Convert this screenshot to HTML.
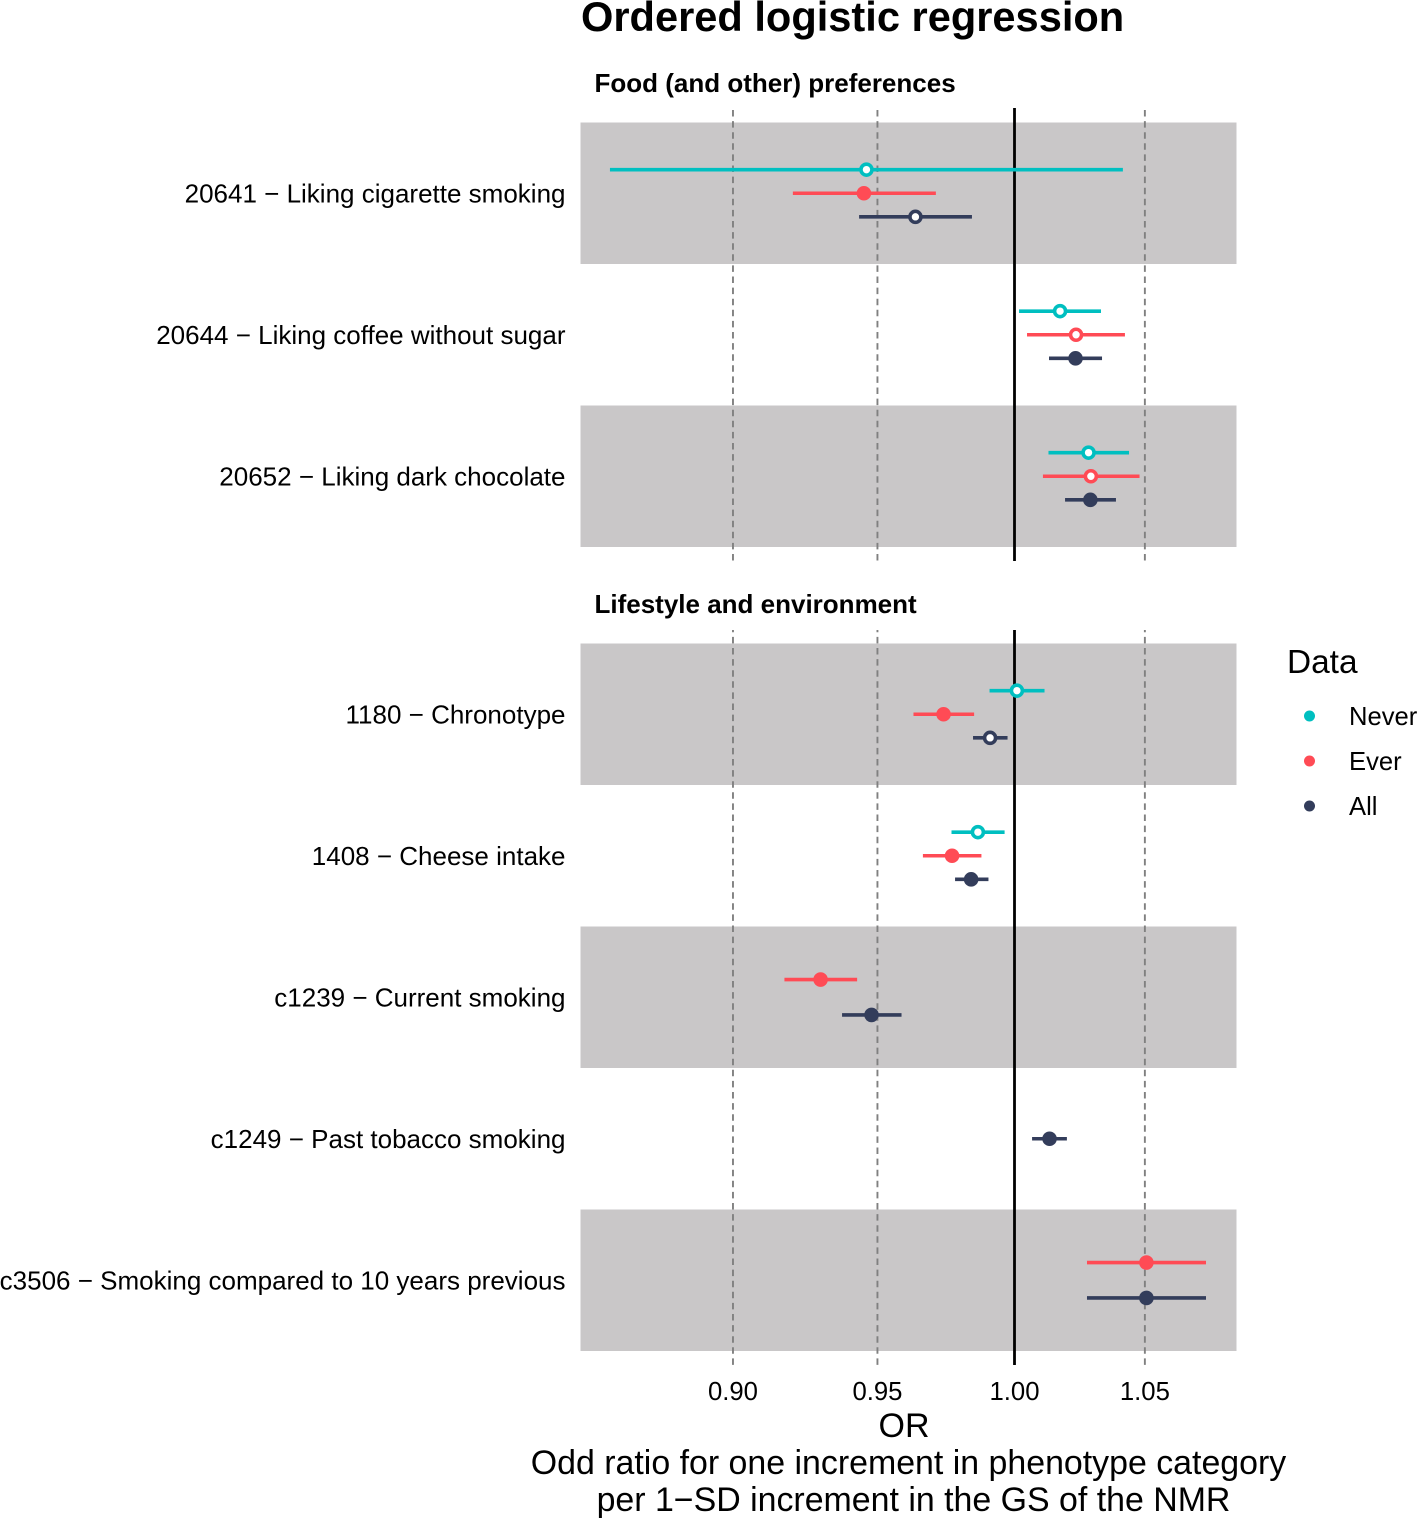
<!DOCTYPE html>
<html lang="en">
<head>
<meta charset="utf-8">
<title>Ordered logistic regression</title>
<style>
html,body{margin:0;padding:0;background:#fff;}
#chart{display:block;width:1418px;height:1518px;overflow:hidden;}
text{font-family:"Liberation Sans",Arial,sans-serif;fill:#000;}
</style>
</head>
<body>
<svg id="chart" xmlns="http://www.w3.org/2000/svg" width="1418" height="1518" viewBox="0 0 1418 1518">
  <text x="581" y="31" font-size="41.6" font-weight="bold">Ordered logistic regression</text>
  <g id="plot"></g>
  <text x="904" y="1437" font-size="34" text-anchor="middle">OR</text>
  <text x="908.5" y="1474" font-size="33.9" text-anchor="middle">Odd ratio for one increment in phenotype category</text>
  <text x="913.5" y="1511" font-size="33.9" text-anchor="middle">per 1−SD increment in the GS of the NMR</text>
  <g>
    <text x="1287" y="673" font-size="33.4">Data</text>
    <g>
      <circle cx="1309.5" cy="716" r="5.5" fill="#00BFC0"/>
      <text x="1349" y="725" font-size="25.6">Never</text>
    </g>
    <g>
      <circle cx="1309.5" cy="761" r="5.5" fill="#FF4B55"/>
      <text x="1349" y="770" font-size="25.6">Ever</text>
    </g>
    <g>
      <circle cx="1309.5" cy="806" r="5.5" fill="#333D5B"/>
      <text x="1349" y="815" font-size="25.6">All</text>
    </g>
  </g>
</svg>
<script>
const panelTitles = ["Food (and other) preferences", "Lifestyle and environment"];
const phenotypes = [
  "20641 − Liking cigarette smoking",
  "20644 − Liking coffee without sugar",
  "20652 − Liking dark chocolate",
  "1180 − Chronotype",
  "1408 − Cheese intake",
  "c1239 − Current smoking",
  "c1249 − Past tobacco smoking",
  "c3506 − Smoking compared to 10 years previous"
];
const phenotypePanels = [0, 0, 0, 1, 1, 1, 1, 1];
const tickValues = [0.90, 0.95, 1.00, 1.05];
const tickLabels = ["0.90", "0.95", "1.00", "1.05"];

const neverOR   = [0.9461, 1.0172, 1.0281, 1.0009, 0.9864, null, null, null];
const neverLow  = [0.8595, 1.0017, 1.0128, 0.9907, 0.9767, null, null, null];
const neverHigh = [1.0414, 1.0329, 1.0438, 1.0113, 0.9963, null, null, null];
const neverFilled = [false, false, false, false, false, false, false, false];

const everOR   = [0.9452, 1.0233, 1.0290, 0.9738, 0.9769, 0.9300, null, 1.0506];
const everLow  = [0.9204, 1.0047, 1.0107, 0.9629, 0.9663, 0.9175, null, 1.0275];
const everHigh = [0.9710, 1.0422, 1.0479, 0.9850, 0.9877, 0.9428, null, 1.0743];
const everFilled = [true, false, false, true, true, true, false, true];

const allOR   = [0.9636, 1.0231, 1.0288, 0.9909, 0.9839, 0.9479, 1.0132, 1.0506];
const allLow  = [0.9435, 1.0130, 1.0191, 0.9846, 0.9780, 0.9375, 1.0066, 1.0275];
const allHigh = [0.9842, 1.0333, 1.0387, 0.9974, 0.9903, 0.9586, 1.0198, 1.0743];
const allFilled = [false, true, true, false, true, true, true, true];

const SVGNS = "http://www.w3.org/2000/svg";
const plot = document.getElementById("plot");
const PANEL_LEFT = 580.5, PANEL_RIGHT = 1236.5, ROW_H = 141.5, X_ONE = 1014.5, X_SCALE = 2672;
const panelBandTop = [122.5, 643.5];
const panelLineTop = [108, 630];
const panelLineBottom = [561, 1365];
const panelDashOffset = [-2, 4.2];
const panelTitleBase = [92, 613];

function xScale(v) { return X_ONE + X_SCALE * Math.log(v); }

function make(tag, props, parent) {
  const el = document.createElementNS(SVGNS, tag);
  for (const k in props) el.setAttribute(k, props[k]);
  parent.appendChild(el);
  return el;
}

const seriesList = [
  { key: "never", color: "#00BFC0", mid: neverOR, low: neverLow, high: neverHigh, filled: neverFilled },
  { key: "ever", color: "#FF4B55", mid: everOR, low: everLow, high: everHigh, filled: everFilled },
  { key: "all", color: "#333D5B", mid: allOR, low: allLow, high: allHigh, filled: allFilled }
];

function rowIndexInPanel(i) {
  let n = 0;
  for (let j = 0; j < i; j++) if (phenotypePanels[j] === phenotypePanels[i]) n++;
  return n;
}
function rowCenter(i) {
  return panelBandTop[phenotypePanels[i]] + (rowIndexInPanel(i) + 0.5) * ROW_H;
}

phenotypes.forEach(function (label, i) {
  const r = rowIndexInPanel(i);
  if (r % 2 === 0) {
    const band = make("rect", { x: PANEL_LEFT, y: panelBandTop[phenotypePanels[i]] + r * ROW_H, width: PANEL_RIGHT - PANEL_LEFT, height: ROW_H, fill: "#C9C7C8" }, plot);
    
    
  }
});

panelTitles.forEach(function (title, p) {
  const t = make("text", { x: 594.5, y: panelTitleBase[p], "font-size": 26, "font-weight": "bold" }, plot);
  t.textContent = title;
  
  

  tickValues.forEach(function (v) {
    if (v === 1) return;
    const g = make("line", { x1: xScale(v), x2: xScale(v), y1: panelLineTop[p], y2: panelLineBottom[p], stroke: "#808080", "stroke-width": 1.9, "stroke-dasharray": "6.5 4.6", "stroke-dashoffset": panelDashOffset[p] }, plot);
    
    
  });
  const ref = make("line", { x1: xScale(1), x2: xScale(1), y1: panelLineTop[p], y2: panelLineBottom[p], stroke: "#000", "stroke-width": 2.8 }, plot);
  
  
});

phenotypes.forEach(function (label, i) {
  const t = make("text", { x: 565.5, y: rowCenter(i) + 9, "font-size": 26, "text-anchor": "end" }, plot);
  t.textContent = label;
  
  

  const present = seriesList.filter(function (s) { return s.mid[i] !== null; });
  const n = present.length;
  present.forEach(function (s, k) {
    const y = rowCenter(i) + (k - (n - 1) / 2) * (n > 1 ? 70.8 / n : 0);
    const g = make("g", {}, plot);
    
    
    const ci = make("line", { x1: xScale(s.low[i]), x2: xScale(s.high[i]), y1: y, y2: y, stroke: s.color, "stroke-width": 3.6 }, g);
    
    
    const dot = s.filled[i]
      ? make("circle", { cx: xScale(s.mid[i]), cy: y, r: 7.3, fill: s.color }, g)
      : make("circle", { cx: xScale(s.mid[i]), cy: y, r: 5.5, fill: "#fff", stroke: s.color, "stroke-width": 3.6 }, g);
    
    
  });
});

tickValues.forEach(function (v, i) {
  const t = make("text", { x: xScale(v), y: 1400, "font-size": 25.7, "text-anchor": "middle", fill: "#000" }, plot);
  t.textContent = tickLabels[i];
  
  
});
</script>
</body>
</html>
